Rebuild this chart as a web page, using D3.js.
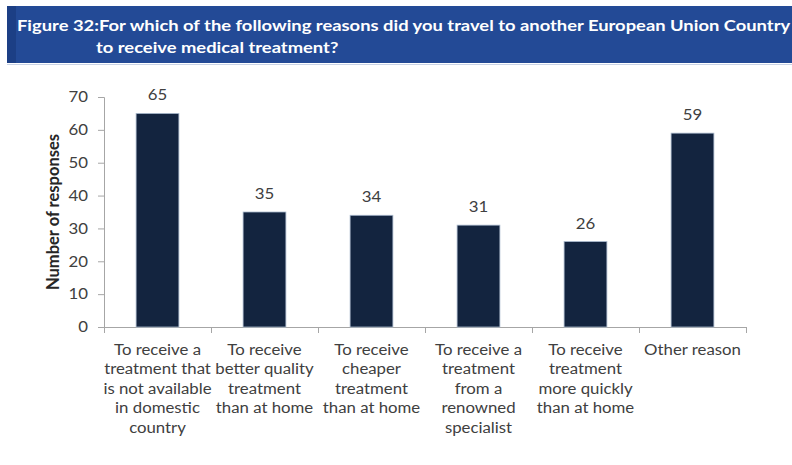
<!DOCTYPE html>
<html>
<head>
<meta charset="utf-8">
<script src="https://cdn.jsdelivr.net/npm/d3@7"></script>
<style>
  html, body { margin: 0; padding: 0; background: #fff; }
  svg { display: block; }
</style>
</head>
<body>
<svg id="chart" width="792" height="465"></svg>
<script>
// Reasons for travelling to another EU country for treatment
const categories = [
  ["To receive a", "treatment that", "is not available", "in domestic", "country"],
  ["To receive", "better quality", "treatment", "than at home"],
  ["To receive", "cheaper", "treatment", "than at home"],
  ["To receive a", "treatment", "from a", "renowned", "specialist"],
  ["To receive", "treatment", "more quickly", "than at home"],
  ["Other reason"]
];
const responses = [65, 35, 34, 31, 26, 59];
const yTicks = [0, 10, 20, 30, 40, 50, 60, 70];
const titleLines = [
  "Figure 32:For which of the following reasons did you travel to another European Union Country",
  "to receive medical treatment?"
];
const yAxisTitle = "Number of responses";

const svg = d3.select("#chart");
const font = "Lato, 'Open Sans', sans-serif";
// horizontal widening used for the Calibri-like lettering
const wideTitle = 1.148, wideLabel = 1.12, wideNum = 1.12;

// Title banner
svg.append("rect").attr("x", 7).attr("y", 6).attr("width", 785).attr("height", 57).attr("fill", "#234a96");
svg.append("rect").attr("x", 7).attr("y", 6).attr("width", 9).attr("height", 57).attr("fill", "#1c3f85");
svg.append("line").attr("x1", 7).attr("x2", 792).attr("y1", 64.5).attr("y2", 64.5)
  .attr("stroke", "#c9d3e6").attr("stroke-width", 1);
[[17, 31], [96, 53]].forEach(([tx, ty], i) => {
  svg.append("text").attr("transform", `translate(${tx},${ty}) scale(${wideTitle},1)`)
    .attr("font-family", font).attr("font-weight", "bold").attr("font-size", 16)
    .attr("fill", "#fff").text(titleLines[i]);
});

// Plot area
const plotLeft = 104, plotRight = 746, plotTop = 97, plotBottom = 327;
const x = d3.scaleBand().domain(d3.range(categories.length)).range([plotLeft, plotRight]).paddingInner(0.6).paddingOuter(0.3);
const y = d3.scaleLinear().domain([0, 70]).range([plotBottom, plotTop]);
const axisColor = "#a6a6a6";
const textColor = "#404040";

// Y axis
const yAxis = svg.append("g").attr("transform", `translate(${plotLeft},0)`)
  .call(d3.axisLeft(y).tickValues(yTicks).tickSize(6).tickPadding(10));
yAxis.select(".domain").attr("stroke", axisColor);
yAxis.selectAll(".tick line").attr("stroke", axisColor);
yAxis.selectAll(".tick text")
  .attr("x", -16 / wideNum).attr("transform", `scale(${wideNum},1)`)
  .attr("font-family", font).attr("font-size", 15).attr("fill", textColor);

// X axis with ticks at category boundaries
const boundaries = d3.range(categories.length + 1).map(i => plotLeft + i * (plotRight - plotLeft) / categories.length);
svg.append("line").attr("x1", plotLeft).attr("x2", plotRight).attr("y1", plotBottom + 0.5).attr("y2", plotBottom + 0.5).attr("stroke", axisColor);
svg.selectAll(".xtick").data(boundaries).join("line")
  .attr("x1", d => d + 0.5).attr("x2", d => d + 0.5)
  .attr("y1", plotBottom).attr("y2", plotBottom + 6).attr("stroke", axisColor);

// Bars
svg.selectAll(".bar").data(responses).join("rect")
  .attr("x", (d, i) => x(i)).attr("width", x.bandwidth())
  .attr("y", d => y(d)).attr("height", d => y(0) - y(d))
  .attr("fill", "#13243f").attr("stroke", "#a9b8cc").attr("stroke-width", 0.8);

// Value labels
svg.selectAll(".val").data(responses).join("text")
  .attr("transform", (d, i) => `translate(${x(i) + x.bandwidth() / 2},${y(d) - 13}) scale(${wideNum},1)`)
  .attr("text-anchor", "middle").attr("font-family", font).attr("font-size", 15)
  .attr("fill", textColor).text(d => d);

// Category labels
categories.forEach((lines, i) => {
  const t = svg.append("text").attr("text-anchor", "middle")
    .attr("transform", `translate(${x(i) + x.bandwidth() / 2},355) scale(${wideLabel},1)`)
    .attr("font-family", font).attr("font-size", 15).attr("fill", textColor);
  lines.forEach((ln, j) => {
    t.append("tspan").attr("x", 0).attr("y", j * 19.4).text(ln);
  });
});

// Y axis title
svg.append("text").attr("transform", `translate(59,${(plotTop + plotBottom) / 2}) rotate(-90)`)
  .attr("text-anchor", "middle").attr("font-family", font).attr("font-weight", "bold")
  .attr("font-size", 16.5).attr("fill", "#262626").text(yAxisTitle);
</script>
</body>
</html>
